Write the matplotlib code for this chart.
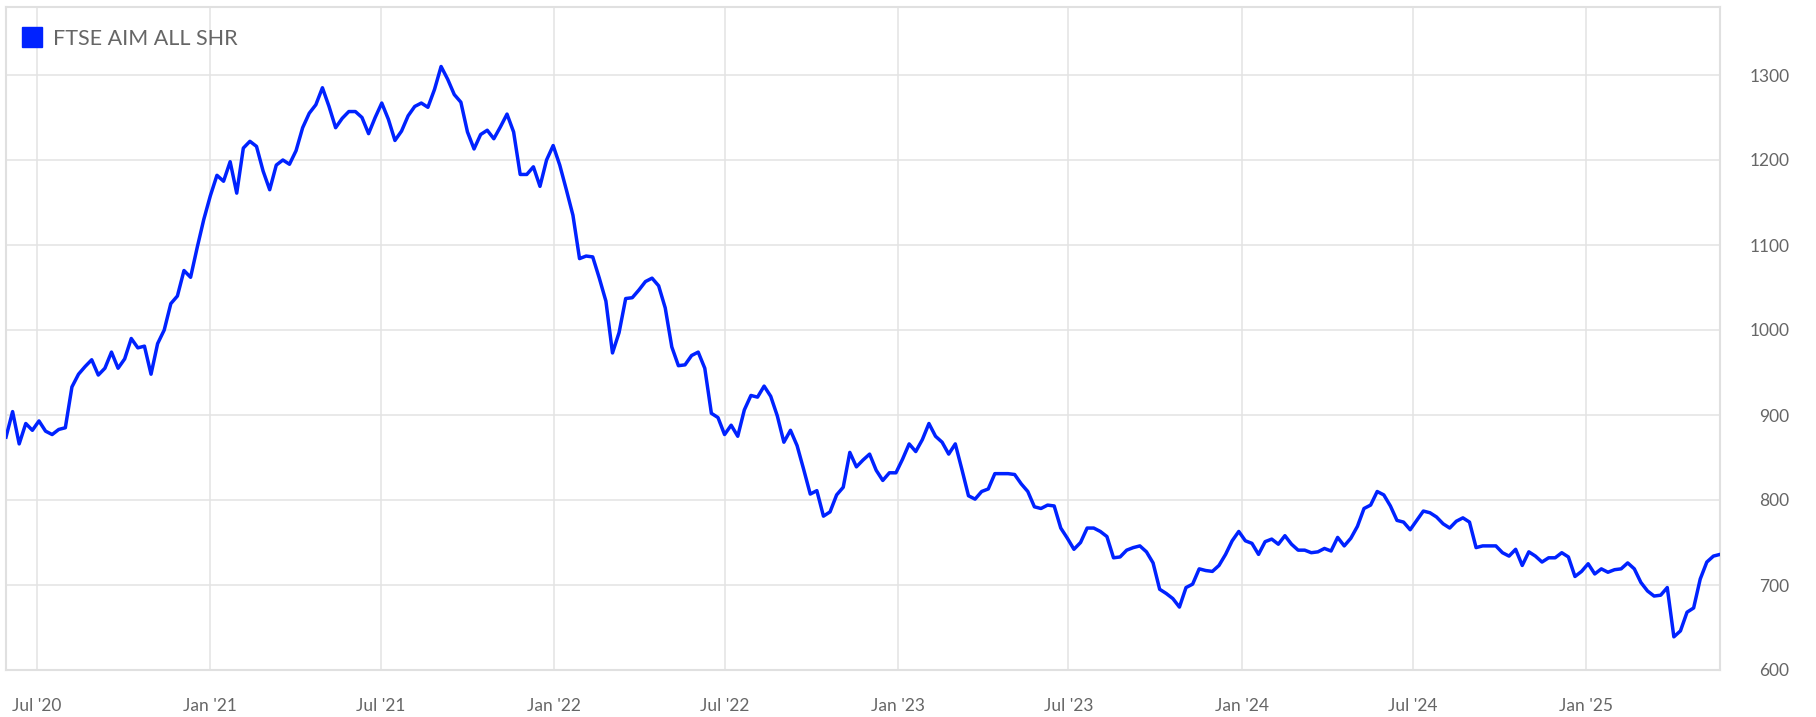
import matplotlib
matplotlib.use("Agg")
import matplotlib.pyplot as plt
from matplotlib.lines import Line2D
import pandas as pd

# weekly closes
series_name = "FTSE AIM ALL SHR"
start_date = "2020-05-29"
closes = [
    874, 904, 866, 890, 882, 893, 881, 877, 883, 885,
    933, 948, 957, 965, 947, 955, 974, 955, 966, 990,
    979, 981, 948, 984, 1000, 1031, 1040, 1070, 1062, 1097,
    1130, 1158, 1182, 1175, 1198, 1161, 1214, 1222, 1216, 1187,
    1165, 1194, 1200, 1195, 1211, 1238, 1255, 1265, 1285, 1263,
    1238, 1249, 1257, 1257, 1250, 1231, 1250, 1267, 1248, 1223,
    1234, 1252, 1263, 1267, 1262, 1283, 1310, 1295, 1277, 1268,
    1233, 1213, 1230, 1235, 1225, 1239, 1254, 1233, 1183, 1183,
    1192, 1169, 1200, 1217, 1194, 1165, 1135, 1084, 1087, 1086,
    1061, 1034, 973, 997, 1037, 1038, 1047, 1057, 1061, 1052,
    1026, 980, 958, 959, 970, 974, 955, 902, 897, 877,
    888, 875, 906, 923, 921, 934, 922, 899, 868, 882,
    864, 836, 807, 811, 781, 786, 806, 815, 856, 839,
    847, 854, 835, 823, 832, 832, 848, 866, 857, 871,
    890, 875, 868, 854, 866, 836, 805, 801, 810, 813,
    831, 831, 831, 830, 819, 810, 792, 790, 794, 793,
    767, 755, 742, 750, 767, 767, 763, 757, 732, 733,
    741, 744, 746, 739, 726, 695, 690, 684, 674, 697,
    701, 719, 717, 716, 723, 736, 752, 763, 752, 749,
    736, 751, 754, 748, 758, 748, 741, 741, 738, 739,
    743, 740, 756, 746, 755, 769, 790, 794, 810, 806,
    793, 776, 774, 765, 776, 787, 785, 780, 772, 767,
    775, 779, 774, 744, 746, 746, 746, 738, 734, 742,
    723, 739, 734, 727, 732, 732, 738, 733, 710, 716,
    725, 713, 719, 715, 718, 719, 726, 719, 703, 693,
    687, 688, 697, 639, 646, 668, 673, 707, 727, 734,
    736,
]
y_ticks = [600, 700, 800, 900, 1000, 1100, 1200, 1300]

dates = pd.date_range(start_date, periods=len(closes), freq="7D")
x_ticks = pd.date_range("2020-07-01", "2025-01-01", freq="6MS")
x_labels = [d.strftime("%b '%y") for d in x_ticks]

line_color = "#0022ff"
text_color = "#666666"
grid_color = "#e3e3e3"

plt.rcParams["font.family"] = ["Lato", "DejaVu Sans"]

fig = plt.figure(figsize=(18.16, 7.17), dpi=100)
W, H = 1816, 717
ax = fig.add_axes([6 / W, 47 / H, (1720 - 6) / W, (670 - 7) / H])

ax.plot(dates, closes, color=line_color, lw=2.5, solid_joinstyle="round", zorder=3)

ax.set_xlim(dates[0], dates[-1])
ax.set_ylim(600, 1380)

ax.set_xticks(x_ticks)
ax.set_xticklabels(x_labels)
ax.set_yticks(y_ticks)
ax.set_yticklabels([str(v) for v in y_ticks])

ax.grid(True, color=grid_color, lw=1.1, zorder=0)
ax.set_axisbelow(True)
for side in ["top", "right", "left", "bottom"]:
    ax.spines[side].set_color("#e0e0e0")
    ax.spines[side].set_linewidth(1.5)

ax.tick_params(axis="x", length=0, pad=20, labelsize=12.5, labelcolor=text_color)
ax.tick_params(axis="y", length=0, pad=50, labelsize=12.5, labelcolor=text_color,
               left=False, labelleft=False, right=False, labelright=True)
for lab in ax.get_yticklabels():
    lab.set_horizontalalignment("right")

handle = Line2D([], [], color=line_color, marker="s", markersize=15, linestyle="none")
leg = ax.legend([handle], [series_name], loc="upper left", bbox_to_anchor=(0.0, 0.99),
                frameon=False, fontsize=15.5, handlelength=1.0, handletextpad=0.5,
                borderaxespad=0.3, labelcolor=text_color)

fig.savefig("out.png", dpi=100, facecolor="white")
